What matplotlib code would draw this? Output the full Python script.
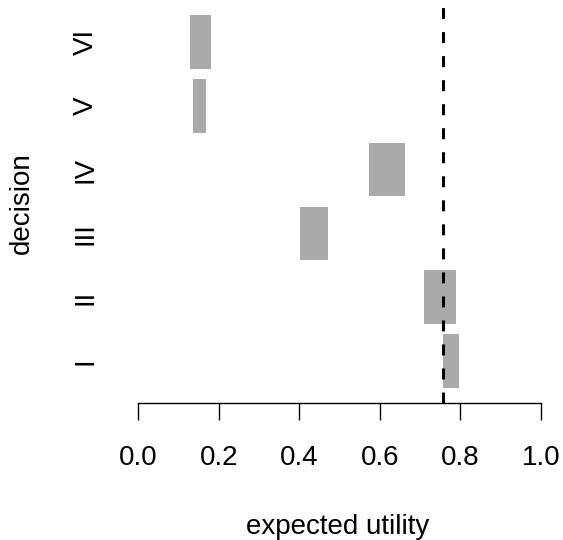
import matplotlib
matplotlib.use("Agg")
import matplotlib.pyplot as plt

# expected utility interval per decision (low, high)
decisions = ["I", "II", "III", "IV", "V", "VI"]
eu_low = [0.757, 0.710, 0.402, 0.573, 0.136, 0.129]
eu_high = [0.796, 0.789, 0.471, 0.663, 0.169, 0.181]
threshold = 0.757
x_ticks = [0.0, 0.2, 0.4, 0.6, 0.8, 1.0]

plt.rcParams["font.family"] = ["Liberation Sans", "DejaVu Sans"]
plt.rcParams["lines.scale_dashes"] = False

W, H = 563, 540
fig = plt.figure(figsize=(W / 100, H / 100), dpi=100)
ax = fig.add_axes([122 / W, (H - 403) / H, (557 - 122) / W, 403 / H])

ypos = list(range(1, len(decisions) + 1))
widths = [h - l for l, h in zip(eu_low, eu_high)]
ax.barh(ypos, widths, left=eu_low, height=0.84, color="#aaaaaa", edgecolor="none")

ax.axvline(threshold, color="black", linewidth=2.2, dashes=(7.9, 9.4))

ax.set_xlim(-0.04, 1.04)
ax.set_ylim(1 - 0.656, 6 + 0.656)

for s in ["top", "right", "left"]:
    ax.spines[s].set_visible(False)
ax.spines["bottom"].set_bounds(0, 1)
ax.spines["bottom"].set_linewidth(1.0)

ax.set_xticks(x_ticks)
ax.set_xticklabels([f"{t:.1f}" for t in x_ticks], fontsize=20)
ax.tick_params(axis="x", length=12.2, width=1.0, pad=18)

ax.set_yticks(ypos)
ax.set_yticklabels(decisions, fontsize=20, rotation=90, va="center")
ax.tick_params(axis="y", length=0, pad=17)

fig.text(338 / W, 1 - 527 / H, "expected utility", fontsize=20, ha="center", va="center")
fig.text(22 / W, 1 - 203 / H, "decision", fontsize=20, ha="center", va="center", rotation=90)

fig.savefig("out.png", dpi=100)
